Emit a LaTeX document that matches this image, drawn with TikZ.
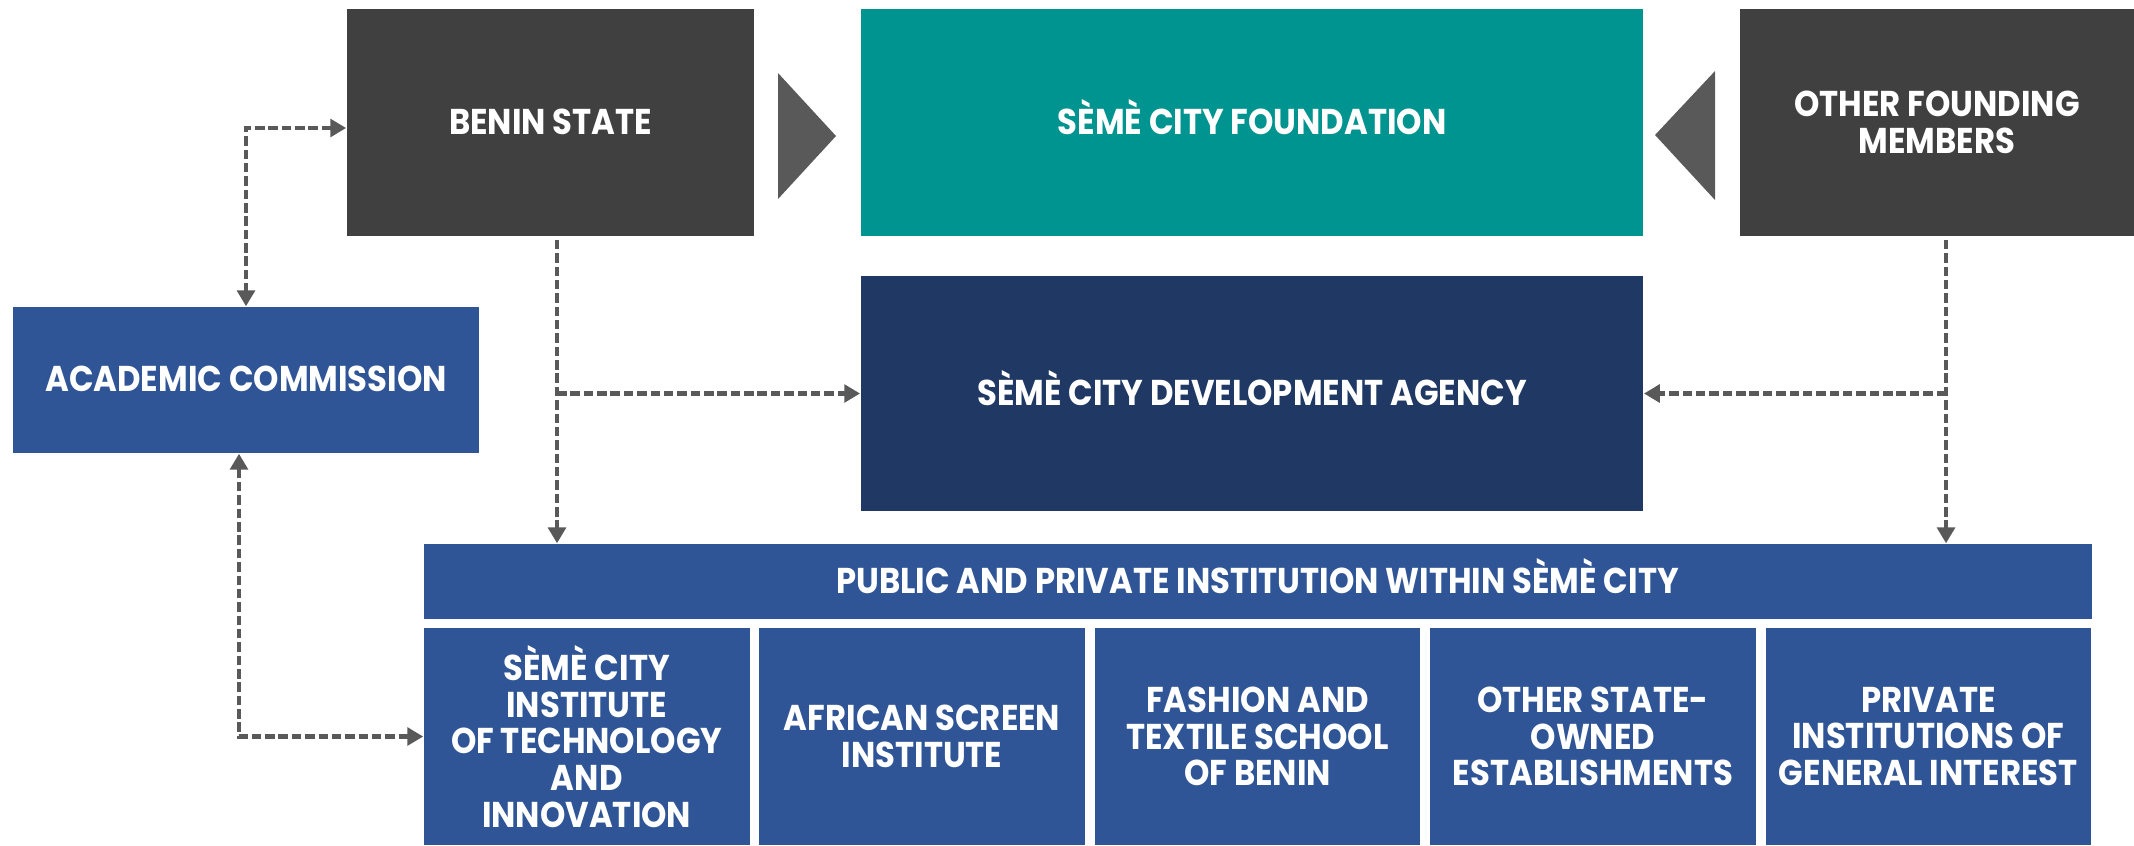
\documentclass[tikz,border=0pt]{standalone}
\usepackage{fontspec}
\setmainfont{Poppins}[FakeStretch=0.9]
\usepackage{tikz}
\usetikzlibrary{arrows.meta,positioning,calc}
\definecolor{darkbox}{HTML}{404040}
\definecolor{tealbox}{HTML}{009490}
\definecolor{navybox}{HTML}{203864}
\definecolor{bluebox}{HTML}{2F5597}
\definecolor{linkgray}{HTML}{595959}
\tikzstyle{box}=[rectangle,inner sep=0pt,align=center,text=white,
  font=\bfseries\fontsize{10.2}{10.4}\selectfont]
\tikzstyle{oneline}=[text height=1.45ex,text depth=0.25ex]
\tikzstyle{link}=[draw=linkgray,line width=1.2pt,dash pattern=on 2.7pt off 1.1pt]

\begin{document}
\begin{tikzpicture}[x=0.01cm,y=-0.01cm,>={Triangle[length=4.5pt,width=5pt]}]
  \useasboundingbox (0,0) rectangle (2134,845);
  % top row
  \node[box,oneline,fill=darkbox,minimum width=4.07cm,minimum height=2.27cm] (benin) at (550.5,122.5) {BENIN STATE};
  \node[box,oneline,fill=tealbox,minimum width=7.82cm,minimum height=2.27cm] (found) at (1252,122.5) {SÈMÈ CITY FOUNDATION};
  \node[box,fill=darkbox,minimum width=3.94cm,minimum height=2.27cm] (other) at (1937,122.5) {OTHER FOUNDING\\MEMBERS};
  \fill[linkgray] (778,73) -- (778,199) -- (836,136) -- cycle;
  \fill[linkgray] (1715,71) -- (1715,200) -- (1655,135) -- cycle;
  % middle
  \node[box,oneline,fill=bluebox,minimum width=4.66cm,minimum height=1.46cm] (acad) at (246,380) {ACADEMIC COMMISSION};
  \node[box,oneline,fill=navybox,minimum width=7.82cm,minimum height=2.35cm] (agency) at (1252,393.5) {SÈMÈ CITY DEVELOPMENT AGENCY};
  % institutions
  \node[box,oneline,fill=bluebox,minimum width=16.67cm,minimum height=0.75cm] (banner) at (1257.5,581.5) {PUBLIC AND PRIVATE INSTITUTION WITHIN SÈMÈ CITY};
  \foreach \txt [count=\i] in {{SÈMÈ CITY\\INSTITUTE\\OF TECHNOLOGY\\AND\\INNOVATION},
      {AFRICAN SCREEN\\INSTITUTE},{FASHION AND\\TEXTILE SCHOOL\\OF BENIN},
      {OTHER STATE-\\OWNED\\ESTABLISHMENTS},{PRIVATE\\INSTITUTIONS OF\\GENERAL INTEREST}}
    \node[box,fill=bluebox,minimum width=3.254cm,minimum height=2.17cm] (inst\i) at ({586.7+335.4*(\i-1)},736.5) {\txt};
  % connectors
  \coordinate (bdrop) at ([xshift=0.065cm,yshift=-0.03cm]benin.south);
  \coordinate (odrop) at ([xshift=0.09cm,yshift=-0.03cm]other.south);
  \draw[link,<->] ([yshift=-0.055cm]benin.west) -| (acad.north);
  \draw[link,<->] ([xshift=-0.07cm]acad.south) |- (inst1.west);
  \draw[link,->] (bdrop) -- (bdrop |- banner.north);
  \draw[link,->] (bdrop |- agency.west) -- (agency.west);
  \draw[link,->] (odrop) -- (odrop |- banner.north);
  \draw[link,->] (odrop |- agency.east) -- (agency.east);
\end{tikzpicture}
\end{document}
